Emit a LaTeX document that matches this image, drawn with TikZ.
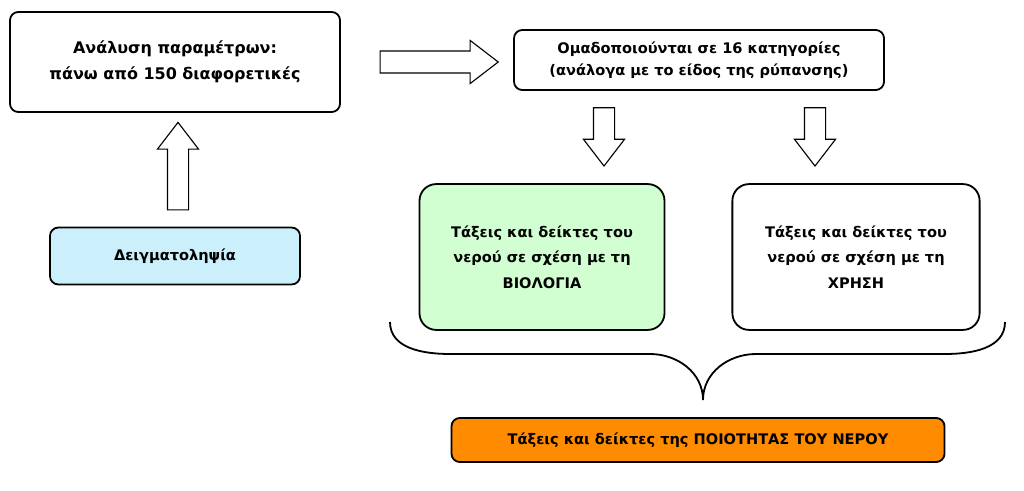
\documentclass[tikz,border=0pt]{standalone}
\usepackage{fontspec}
\setmainfont{DejaVu Sans}
\usetikzlibrary{shapes.arrows}
\tikzset{
  box/.style={draw, line width=1.3pt, rounded corners=6pt, align=center, font=\bfseries\fontsize{10.5}{16}\selectfont},
  blockarrow/.style={single arrow, draw, line width=0.8pt, fill=white, inner sep=0pt,
    minimum width=29pt, single arrow head extend=7.2pt, single arrow tip angle=75}
}
\begin{document}
\begin{tikzpicture}[x=0.72pt,y=-0.72pt]
\useasboundingbox (0,0) rectangle (1024,491);
% boxes
\node[box, font=\bfseries\fontsize{11.5}{18.5}\selectfont, minimum width=237.6pt, minimum height=72pt] (anal) at (175,62) {Ανάλυση παραμέτρων:\\ πάνω από 150 διαφορετικές};
\node[box, fill=cyan!20, minimum width=180pt, minimum height=41pt] (samp) at (175,256) {Δειγματοληψία};
\node[box, minimum width=266.4pt, minimum height=43.2pt] (group) at (699,60) {Ομαδοποιούνται σε 16 κατηγορίες\\ (ανάλογα με το είδος της ρύπανσης)};
\node[box, font=\bfseries\fontsize{10.5}{18.5}\selectfont, rounded corners=12pt, fill=green!18, minimum width=176.4pt, minimum height=105pt] (bio) at (542,257) {Τάξεις και δείκτες του\\ νερού σε σχέση με τη\\ ΒΙΟΛΟΓΙΑ};
\node[box, font=\bfseries\fontsize{10.5}{18.5}\selectfont, rounded corners=12pt, minimum width=178pt, minimum height=105pt] (use) at (856,257) {Τάξεις και δείκτες του\\ νερού σε σχέση με τη\\ ΧΡΗΣΗ};
\node[box, fill=orange!90!yellow, minimum width=355pt, minimum height=31.7pt] (qual) at (698,440) {Τάξεις και δείκτες της ΠΟΙΟΤΗΤΑΣ ΤΟΥ ΝΕΡΟΥ};
% block arrows
\node[blockarrow, minimum height=63pt, rotate=90] (up) at (178,173) {\rule{0pt}{14.4pt}};
\node[blockarrow, minimum height=85pt, minimum width=31pt] (right) at (432,62) {\rule{0pt}{14.4pt}};
\node[blockarrow, minimum height=42pt, rotate=270] (downa) at (604,130) {\rule{0pt}{14.4pt}};
\node[blockarrow, minimum height=42pt, rotate=270] (downb) at (815,130) {\rule{0pt}{14.4pt}};
% brace
\draw[line width=1.3pt] (390,322) to[out=-90,in=180] (450,354) -- (650,354)
  to[out=0,in=90] (703,400) to[out=90,in=180] (756,354) -- (945,354) to[out=0,in=-90] (1005,322);
\end{tikzpicture}
\end{document}
